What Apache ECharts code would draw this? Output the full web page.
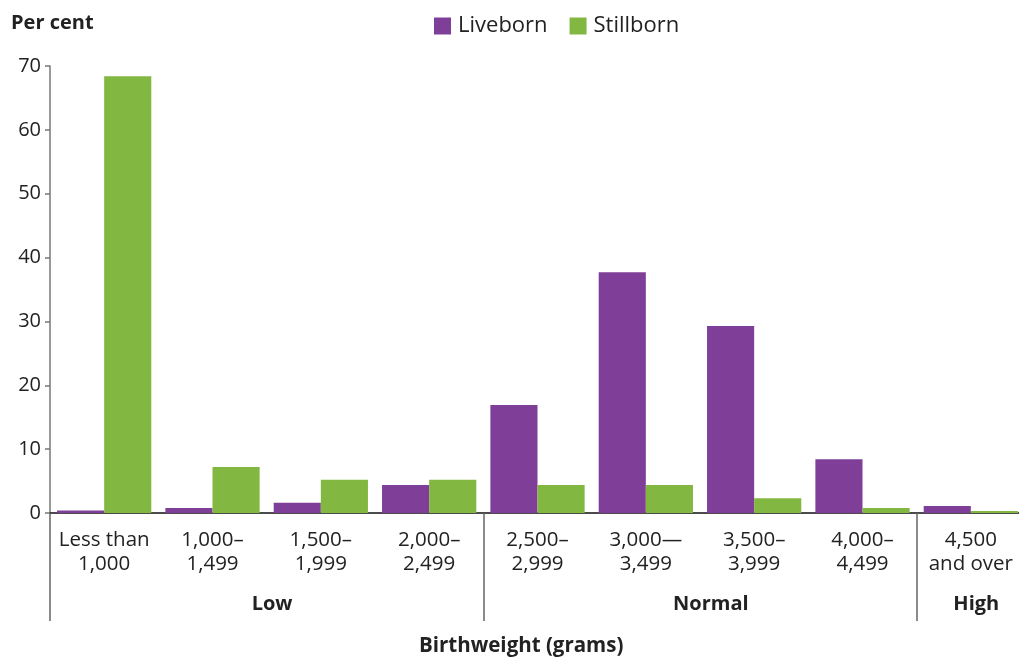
<!DOCTYPE html>
<html>
<head>
<meta charset="utf-8">
<script src="https://cdn.jsdelivr.net/npm/echarts@6/dist/echarts.min.js"></script>
<style>
    html, body { margin: 0; padding: 0; background: #fff; }
    #chart { width: 1019px; height: 657px; }
</style>
</head>
<body>
<div id="chart"></div>
<script>
// 出生体重分类
var categories = ['Less than\n1,000', '1,000–\n1,499', '1,500–\n1,999', '2,000–\n2,499',
    '2,500–\n2,999', '3,000—\n3,499', '3,500–\n3,999', '4,000–\n4,499', '4,500\nand over'];
var liveborn = [0.4, 0.8, 1.6, 4.4, 16.9, 37.7, 29.3, 8.4, 1.1];
var stillborn = [68.4, 7.2, 5.2, 5.2, 4.4, 4.4, 2.3, 0.8, 0.3];
var yTicks = [0, 10, 20, 30, 40, 50, 60, 70];

// 分组 (Low / Normal / High)
var groupNames = ['Low', 'Normal', 'High'];
var groupCenters = [2.05, 6.1, 8.55];
var groupBounds = [0, 4, 8];

(function(){
    var font = 'Open Sans';
    var myChart = echarts.init(document.getElementById('chart'));
    var option = {
        animation: false,
        textStyle: { fontFamily: font },
        title: [
            {
                text: 'Per cent', left: 6, top: 8,
                textStyle: { fontFamily: font, fontSize: 20, fontWeight: 'bold', color: '#222' }
            },
            {
                text: 'Birthweight (grams)', left: 414, top: 631,
                textStyle: { fontFamily: font, fontSize: 20.5, fontWeight: 'bold', color: '#222' }
            }
        ],
        legend: {
            data: ['Liveborn', 'Stillborn'],
            left: 429,
            top: 10,
            icon: 'rect',
            itemWidth: 17,
            itemHeight: 17,
            itemGap: 22,
            textStyle: { fontFamily: font, fontSize: 22, color: '#222', padding: [0, 0, 0, 2] }
        },
        grid: {
            left: 50,
            width: 975,
            top: 66,
            bottom: 144,
            containLabel: false,
            outerBoundsMode: 'none'
        },
        xAxis: [
            {
                type: 'category',
                data: categories,
                axisLine: { lineStyle: { color: '#111', width: 1.5 } },
                axisTick: { show: false },
                axisLabel: {
                    interval: 0,
                    margin: 15,
                    fontFamily: font,
                    fontSize: 20.5,
                    lineHeight: 24,
                    color: '#222'
                }
            },
            {
                type: 'value',
                position: 'bottom',
                min: 0,
                max: 9,
                axisLine: { show: false },
                splitLine: { show: false },
                axisTick: {
                    show: true,
                    customValues: groupBounds,
                    length: 108,
                    lineStyle: { color: '#666', width: 1.5 }
                },
                axisLabel: {
                    customValues: groupCenters,
                    margin: 81,
                    fontFamily: font,
                    fontSize: 20,
                    fontWeight: 'bold',
                    color: '#222',
                    formatter: function(value){
                        var i = groupCenters.indexOf(value);
                        return i >= 0 ? groupNames[i] : '';
                    }
                }
            }
        ],
        yAxis: {
            type: 'value',
            min: yTicks[0],
            max: yTicks[yTicks.length - 1],
            interval: 10,
            axisLine: { show: true, lineStyle: { color: '#777', width: 1.5 } },
            axisTick: { show: true, length: 5, lineStyle: { color: '#777', width: 1.5 } },
            splitLine: { show: false },
            axisLabel: { fontFamily: font, fontSize: 20, color: '#222', margin: 9 }
        },
        series: [
            {
                name: 'Liveborn',
                type: 'bar',
                xAxisIndex: 0,
                data: liveborn,
                barGap: '0%',
                barCategoryGap: '13%',
                itemStyle: { color: '#7F3F98' }
            },
            {
                name: 'Stillborn',
                type: 'bar',
                xAxisIndex: 0,
                data: stillborn,
                barGap: '0%',
                barCategoryGap: '13%',
                itemStyle: { color: '#82B841' }
            }
        ]
    };
    myChart.setOption(option);
})();
</script>
</body>
</html>
